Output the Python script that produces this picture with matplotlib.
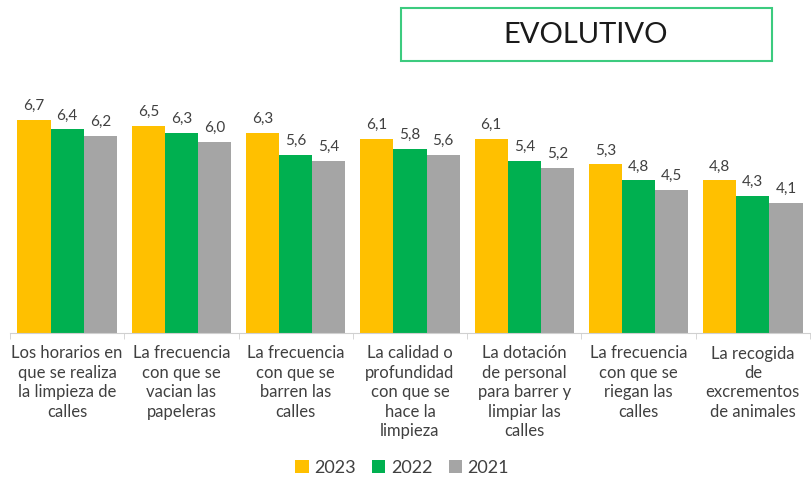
import matplotlib
matplotlib.use("Agg")
import matplotlib.pyplot as plt
import numpy as np
from matplotlib.patches import Rectangle

categories = [
    "Los horarios en\nque se realiza\nla limpieza de\ncalles",
    "La frecuencia\ncon que se\nvacian las\npapeleras",
    "La frecuencia\ncon que se\nbarren las\ncalles",
    "La calidad o\nprofundidad\ncon que se\nhace la\nlimpieza",
    "La dotación\nde personal\npara barrer y\nlimpiar las\ncalles",
    "La frecuencia\ncon que se\nriegan las\ncalles",
    "La recogida\nde\nexcrementos\nde animales",
]
years = ["2023", "2022", "2021"]
values_2023 = [6.7, 6.5, 6.3, 6.1, 6.1, 5.3, 4.8]
values_2022 = [6.4, 6.3, 5.6, 5.8, 5.4, 4.8, 4.3]
values_2021 = [6.2, 6.0, 5.4, 5.6, 5.2, 4.5, 4.1]
colors = ["#FFC000", "#00B050", "#A5A5A5"]

plt.rcParams["font.family"] = ["Lato", "DejaVu Sans"]
text_color = "#404040"

fig = plt.figure(figsize=(8.12, 4.86), dpi=100)
ax = fig.add_axes([10 / 812, 153 / 486, 800 / 812, 238.5 / 486])

x = np.arange(len(categories))
width = 0.29
series = [values_2023, values_2022, values_2021]
for i, (vals, col, yr) in enumerate(zip(series, colors, years)):
    pos = x + (i - 1) * width
    bars = ax.bar(pos, vals, width=width, color=col, label=yr, zorder=2)
    for b, v in zip(bars, vals):
        ax.annotate(f"{v:.1f}".replace(".", ","),
                    (b.get_x() + b.get_width() / 2, v),
                    xytext=(0, 5), textcoords="offset points",
                    ha="center", va="bottom", fontsize=11, color=text_color)

ax.set_xlim(-0.5, len(categories) - 0.5)
ax.set_ylim(0, 7.5)
ax.set_yticks([])
for s in ["top", "right", "left"]:
    ax.spines[s].set_visible(False)
ax.spines["bottom"].set_color("#D0D0D0")
ax.set_xticks(x)
ax.set_xticklabels(categories, fontsize=12, color=text_color, linespacing=1.26)
ax.tick_params(axis="x", which="major", length=0, pad=9)
ax.set_xticks(np.arange(len(categories) + 1) - 0.5, minor=True)
ax.tick_params(axis="x", which="minor", length=4, color="#D0D0D0")

leg = fig.legend(loc="center", bbox_to_anchor=(402 / 812, 1 - 468 / 486), ncol=3,
                 frameon=False, fontsize=13, handlelength=0.75, handleheight=0.75,
                 handletextpad=0.3, columnspacing=0.9)
for t in leg.get_texts():
    t.set_color(text_color)

# Title box
fig.patches.append(Rectangle((401 / 812, 1 - 61 / 486), 371 / 812, 53 / 486,
                             transform=fig.transFigure, fill=True, facecolor="white",
                             edgecolor="#3CCB7F", linewidth=1.5))
fig.text(586 / 812, 1 - 35 / 486, "EVOLUTIVO", ha="center", va="center",
         fontsize=21, color="#1a1a1a")

fig.savefig("out.png", dpi=100, facecolor="white")
